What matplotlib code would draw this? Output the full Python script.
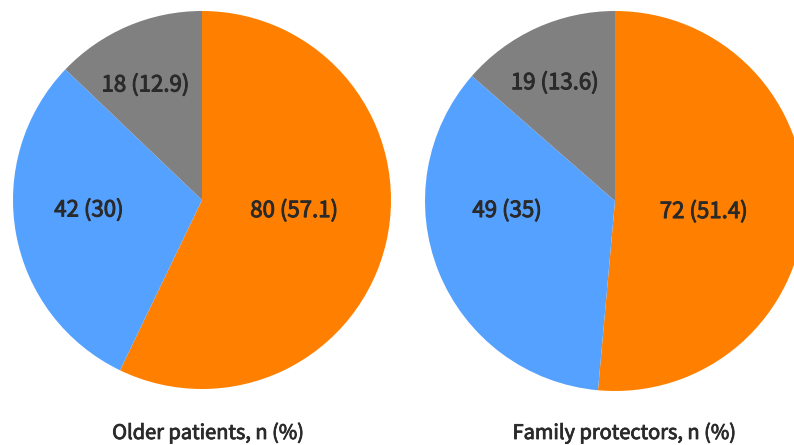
import matplotlib
matplotlib.use("Agg")
import matplotlib.pyplot as plt
import matplotlib.patheffects as pe
import numpy as np

plt.rcParams['font.family'] = ['Noto Sans CJK KR', 'DejaVu Sans']

# Data
groups = ["Older patients, n (%)", "Family protectors, n (%)"]
older_counts = [80, 42, 18]
older_pcts = [57.1, 30, 12.9]
family_counts = [72, 49, 19]
family_pcts = [51.4, 35, 13.6]
colors = ["#FF8000", "#55A1FF", "#808080"]

# label placement inside each wedge: (radius fraction, angle offset in degrees)
older_label_pos = [(0.49, 6.5), (0.60, -5.4), (0.68, 3.0)]
family_label_pos = [(0.47, -4.0), (0.57, -17.0), (0.70, 2.5)]

TEXT_COLOR = "#2a2a2a"
W, H = 794, 445
fig = plt.figure(figsize=(W / 100, H / 100), dpi=100)


def medium(lw):
    # thicken regular glyphs slightly for a medium-weight look
    return [pe.withStroke(linewidth=lw, foreground=TEXT_COLOR)]


def draw_pie(cx, cy, r, counts, pcts, label_pos, title, title_x):
    ax = fig.add_axes([(cx - r) / W, (H - cy - r) / H, 2 * r / W, 2 * r / H])
    wedges, _ = ax.pie(counts, colors=colors, startangle=90, counterclock=False,
                       radius=1, wedgeprops=dict(linewidth=0))
    for w, n, p, (rf, dang) in zip(wedges, counts, pcts, label_pos):
        mid = np.deg2rad((w.theta1 + w.theta2) / 2 + dang)
        ax.text(rf * np.cos(mid), rf * np.sin(mid), f"{n} ({p:g})",
                ha="center", va="center", fontsize=16, color=TEXT_COLOR,
                path_effects=medium(0.7))
    ax.set_xlim(-1, 1)
    ax.set_ylim(-1, 1)
    ax.set_aspect("equal")
    ax.axis("off")
    fig.text(title_x / W, (H - 439) / H, title, ha="center", va="baseline",
             fontsize=14.4, color=TEXT_COLOR, path_effects=medium(0.6))


draw_pie(202, 200, 189, older_counts, older_pcts, older_label_pos, groups[0], 208)
draw_pie(615, 201, 190, family_counts, family_pcts, family_label_pos, groups[1], 624)

fig.savefig("out.png", dpi=100)
